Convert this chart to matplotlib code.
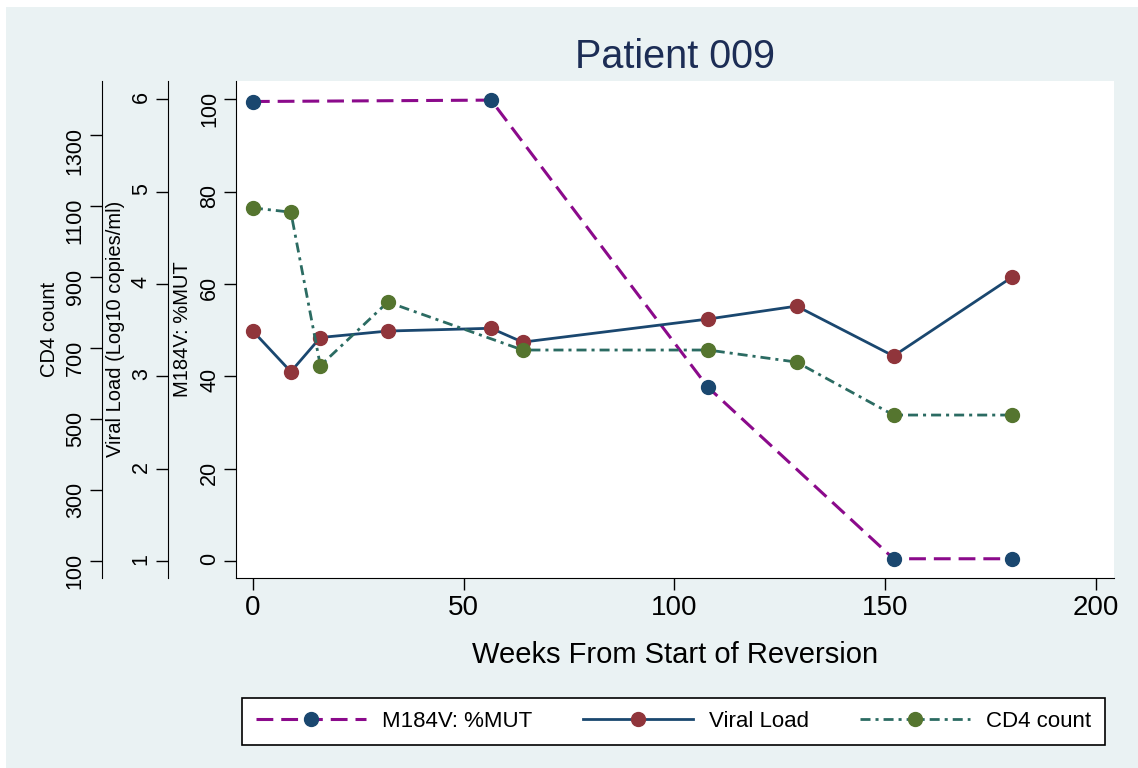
import matplotlib
matplotlib.use('Agg')
import matplotlib.pyplot as plt
from matplotlib.patches import Rectangle

plt.rcParams.update({'font.family': ['Liberation Sans', 'DejaVu Sans']})

# weeks from start of reversion, per measurement series
weeks_mut = [0, 56.5, 108, 152, 180]
mut_pct = [99.5, 99.8, 37.6, 0.5, 0.5]

weeks_vl = [0, 9, 16, 32, 56.5, 64, 108, 129, 152, 180]
viral_load = [3.49, 3.05, 3.42, 3.49, 3.52, 3.37, 3.62, 3.76, 3.22, 4.07]

weeks_cd4 = [0, 9, 16, 32, 64, 108, 129, 152, 180]
cd4_count = [1094, 1082, 650, 829, 694, 694, 660, 511, 511]

x_ticks = [0, 50, 100, 150, 200]
mut_ticks = [0, 20, 40, 60, 80, 100]
vl_ticks = [1, 2, 3, 4, 5, 6]
cd4_ticks = [100, 300, 500, 700, 900, 1100, 1300]

BG, PURPLE, NAVY, MAROON = '#eaf2f3', '#8b0a8b', '#1a476f', '#90353b'
TEAL, GREEN, TITLE = '#2b6b62', '#55752f', '#1c2d55'

fig = plt.figure(figsize=(11.38, 7.68), dpi=100, facecolor='white')
fig.add_artist(Rectangle((6/1138, 0), 1, 1 - 7/768, transform=fig.transFigure,
                         facecolor=BG, edgecolor='none', zorder=-5))

ax = fig.add_axes([0.2078, 0.2478, 0.7707, 0.6471])
ax.set_facecolor('white')
ax.plot(weeks_mut, mut_pct, color=PURPLE, ls=(0, (5.5, 2.6)), lw=2.2,
        marker='o', ms=10, mfc=NAVY, mec=NAVY, label='M184V: %MUT')
ax2, ax3 = ax.twinx(), ax.twinx()
ax2.plot(weeks_vl, viral_load, color=NAVY, lw=2, marker='o', ms=10,
         mfc=MAROON, mec=MAROON, label='Viral Load')
ax3.plot(weeks_cd4, cd4_count, color=TEAL, ls=(0, (3.6, 1.8, 1.1, 1.8)), lw=2,
         marker='o', ms=10, mfc=GREEN, mec=GREEN, label='CD4 count')

ax.set_xlim(-3.9, 204.2), ax.set_xticks(x_ticks)
ax.set_ylim(-3.6, 104.0), ax.set_yticks(mut_ticks)
ax2.set_ylim(0.82, 6.2), ax2.set_yticks(vl_ticks)
ax3.set_ylim(53.2, 1452), ax3.set_yticks(cd4_ticks)

ax.spines['top'].set_visible(False), ax.spines['right'].set_visible(False)
for a, off in ((ax2, -0.0781), (ax3, -0.1534)):
    for s in a.spines.values():
        s.set_visible(False)
    a.spines['left'].set_visible(True)
    a.spines['left'].set_position(('axes', off))
    a.yaxis.set_ticks_position('left')
    a.yaxis.set_label_position('left')

for a in (ax, ax2, ax3):
    a.tick_params(axis='y', direction='out', length=8.6, width=1, labelsize=15.5,
                  labelrotation=90, pad=3)
ax.tick_params(axis='x', direction='out', length=8.6, width=1, labelsize=20, pad=4)

ax.set_ylabel('M184V: %MUT', fontsize=14.5, labelpad=5)
ax2.set_ylabel('Viral Load (Log10 copies/ml)', fontsize=14.5, labelpad=4)
ax3.set_ylabel('CD4 count', fontsize=14.5, labelpad=4)
ax.set_xlabel('Weeks From Start of Reversion', fontsize=21, labelpad=14)

fig.text(675/1138, 1 - 68/768, 'Patient 009', ha='center', va='baseline',
         fontsize=28.5, color=TITLE)

handles, labels = [], []
for a in (ax, ax2, ax3):
    h, l = a.get_legend_handles_labels()
    handles += h
    labels += l
leg = fig.legend(handles, labels, loc='center', bbox_to_anchor=(673.5/1138, 1 - 721.5/768),
                 ncol=3, fontsize=16, handlelength=4.95, handletextpad=0.72,
                 columnspacing=2.3, borderpad=0.6, numpoints=1, frameon=True,
                 fancybox=False, edgecolor='black', framealpha=1)
leg.get_frame().set_linewidth(1.2)

fig.savefig('out.png', dpi=100, facecolor=fig.get_facecolor())
